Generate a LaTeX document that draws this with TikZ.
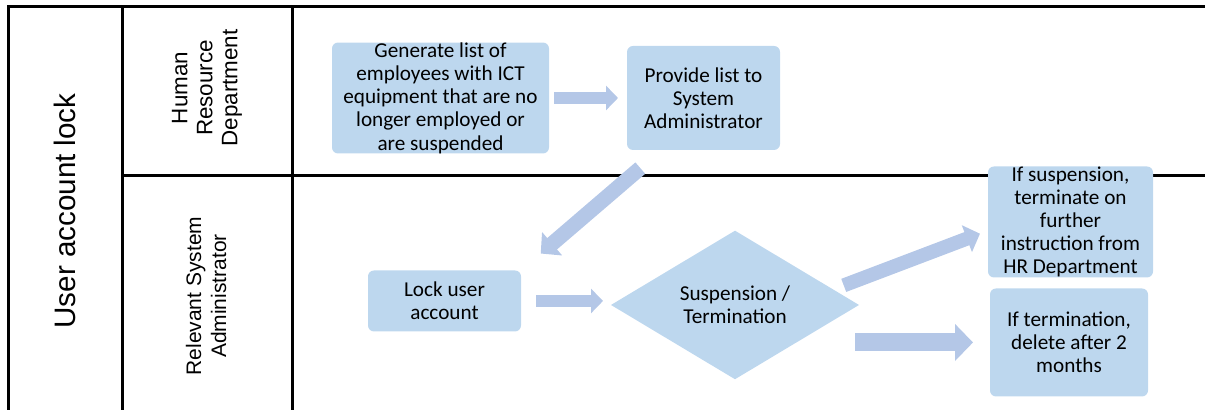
\documentclass[tikz,border=0pt]{standalone}
\usepackage{fontspec}
\setmainfont{Carlito}
\newfontfamily\lanefont{Liberation Sans}
\usepackage{xcolor}
\usepackage{tikz}
\usetikzlibrary{arrows.meta,shapes.geometric,calc}
\definecolor{boxblue}{HTML}{BDD7EE}
\definecolor{flowblue}{HTML}{B4C7E7}
\tikzstyle{task}=[fill=boxblue, rounded corners=3pt, text centered, align=center,
  inner sep=0pt, outer sep=0pt, font=\fontsize{10.6}{11.6}\selectfont]
\tikzstyle{decision}=[diamond, fill=boxblue, align=center, inner sep=0pt,
  outer sep=0pt, minimum width=124pt, minimum height=72.5pt,
  font=\fontsize{10.6}{11.6}\selectfont]
\tikzstyle{flow}=[draw=flowblue, -{Triangle[length=0pt 1, width=0pt 2]}]
\tikzstyle{lane}=[rotate=90, align=center, inner sep=0pt]
\tikzstyle{rule}=[line width=1.5pt]

\begin{document}
\begin{tikzpicture}[x=0.5pt, y=-0.5pt]
  \useasboundingbox (0,0) rectangle (1205,410);

  % swim lanes
  \draw[rule] (8,410) -- (8,7) -- (1205,7);
  \draw[rule] (122,7) -- (122,410);
  \draw[rule] (292,7) -- (292,410);
  \draw[rule] (122,176) -- (1205,176);
  \node(proc)[lane, font=\lanefont\fontsize{14.8}{17}\selectfont] at (65,211)
  {User account lock};
  \node(hr)[lane, font=\lanefont\fontsize{11.2}{12.5}\selectfont] at (207,88)
  {Human\\Resource\\Department};
  \node(rsa)[lane, font=\lanefont\fontsize{10.5}{12.5}\selectfont] at (206,296)
  {Relevant System\\Administrator};

  % steps
  \node(gen)[task, minimum width=108.5pt, minimum height=55pt] at (440.5,98)
  {Generate list of\\employees with ICT\\equipment that are no\\longer employed or\\are suspended};

  \path(gen.east)+(154.5,0) node(prov)[task, minimum width=76.5pt, minimum height=52pt]
  {Provide list to\\System\\Administrator};
  \draw[flow, line width=6pt, shorten <=2.5pt, shorten >=4.5pt] (gen.east) -- (prov.west);

  \path(gen.south)+(4,147.5) node(lock)[task, minimum width=76.5pt, minimum height=30.5pt]
  {Lock user\\account};
  \draw[flow, line width=7.5pt, shorten <=13.9pt, shorten >=13pt] (prov.231) -- (lock.north east);

  \path(lock.east)+(214,4) node(dia)[decision]{Suspension /\\Termination};
  \draw[flow, line width=6pt, shorten <=7.5pt, shorten >=4pt] (lock.east) -- (lock.east -| dia.west);

  \path(dia.east)+(211.5,-83) node(susp)[task, minimum width=82.5pt, minimum height=55.5pt]
  {If suspension,\\terminate on\\further\\instruction from\\HR Department};
  \draw[flow, line width=7pt, shorten <=5.7pt, shorten >=4.3pt] (dia.9) -- (susp.186);

  \path(susp.south)+(-1.5,65) node(term)[task, minimum width=79pt, minimum height=54pt]
  {If termination,\\delete after 2\\months};
  \draw[flow, line width=9pt, shorten <=-2pt, shorten >=8.5pt] (term.west -| dia.east) -- (term.west);
\end{tikzpicture}
\end{document}
